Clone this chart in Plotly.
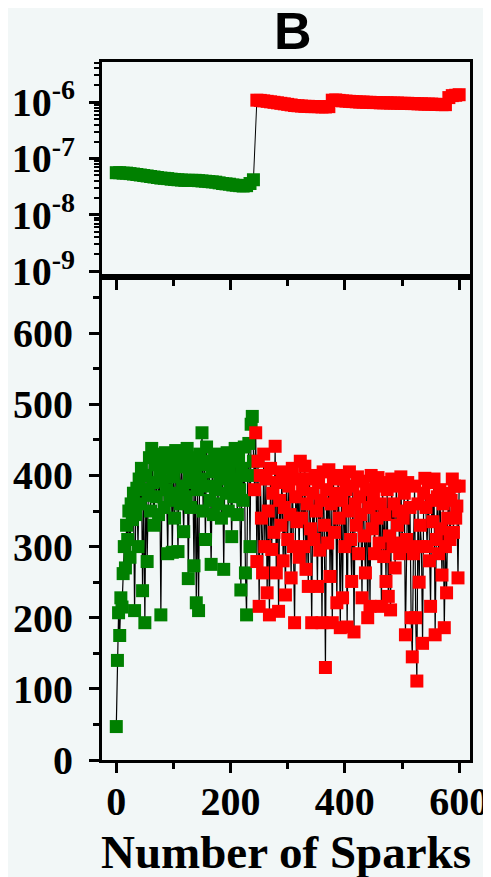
import plotly.graph_objects as go
from plotly.subplots import make_subplots

# ---------------- data ----------------
# Bottom panel (value vs spark number)
green_sparks = list(range(0, 241, 2))
green_vals = [
    47, 140, 207, 175, 228, 215, 262, 300, 270, 330,
    310, 350, 285, 360, 338, 375, 210, 345, 382, 300,
    395, 360, 410, 238, 380, 193, 400, 279, 372, 425,
    350, 438, 390, 330, 415, 370, 430, 345, 405, 204,
    392, 420, 355, 432, 380, 290, 410, 365, 425, 292,
    398, 340, 435, 375, 293, 412, 360, 428, 385, 321,
    418, 370, 438, 255, 400, 355, 425, 390, 273, 410,
    221, 380, 210, 430, 395, 460, 350, 415, 310, 440,
    385, 420, 365, 275, 405, 345, 430, 380, 412, 360,
    425, 395, 340, 418, 268, 400, 375, 432, 350, 410,
    385, 314, 420, 370, 438, 395, 345, 425, 380, 239,
    410, 365, 440, 263, 204, 400, 445, 300, 472, 483,
    420,
]
red_sparks = list(range(242, 601, 2))
red_vals = [
    380, 460, 279, 420, 216, 400, 340, 263, 430, 300,
    395, 235, 350, 204, 410, 296, 375, 320, 441, 263,
    390, 209, 365, 330, 405, 280, 355, 232, 400, 310,
    385, 345, 256, 410, 300, 193, 370, 335, 395, 285,
    420, 340, 380, 300, 413, 268, 360, 244, 395, 325,
    193, 375, 310, 400, 350, 244, 390, 295, 365, 193,
    405, 330, 130, 380, 305, 408, 258, 360, 193, 395,
    320, 375, 221, 400, 340, 186, 365, 228, 395, 300,
    380, 187, 350, 405, 310, 251, 385, 180, 360, 330,
    398, 290, 370, 345, 228, 392, 315, 263, 380, 200,
    355, 216, 400, 325, 370, 290, 385, 340, 397, 305,
    360, 216, 390, 286, 345, 251, 380, 230, 315, 211,
    395, 300, 360, 270, 385, 330, 350, 290, 398, 305,
    340, 375, 176, 310, 390, 300, 355, 200, 145, 290,
    385, 200, 111, 360, 250, 330, 300, 164, 375, 396,
    355, 300, 390, 280, 216, 365, 335, 395, 176, 310,
    370, 290, 380, 325, 260, 360, 186, 300, 235, 340,
    375, 310, 365, 395, 320, 385, 340, 357, 256, 385,
]

# Top panel (log scale)
green_top_sparks = list(range(0, 241, 6))
green_top_vals = [
    5.6e-8, 5.6e-8, 5.5e-8, 5.5e-8, 5.4e-8, 5.3e-8, 5.2e-8, 5.1e-8, 5.0e-8, 4.9e-8,
    4.8e-8, 4.7e-8, 4.6e-8, 4.5e-8, 4.45e-8, 4.4e-8, 4.3e-8, 4.25e-8, 4.2e-8, 4.15e-8,
    4.1e-8, 4.1e-8, 4.1e-8, 4.1e-8, 4.05e-8, 4.0e-8, 3.95e-8, 3.9e-8, 3.85e-8, 3.8e-8,
    3.7e-8, 3.6e-8, 3.55e-8, 3.5e-8, 3.4e-8, 3.35e-8, 3.3e-8, 3.25e-8, 3.3e-8, 3.6e-8,
    4.2e-8,
]
red_top_sparks = list(range(246, 601, 6))
red_top_vals = [
    1.08e-6, 1.07e-6, 1.05e-6, 1.03e-6, 1.01e-6, 0.99e-6, 0.97e-6, 0.95e-6, 0.93e-6, 0.91e-6,
    0.89e-6, 0.87e-6, 0.86e-6, 0.85e-6, 0.84e-6, 0.84e-6, 0.83e-6, 0.83e-6, 0.83e-6, 0.82e-6,
    0.82e-6, 0.83e-6, 1.08e-6, 1.09e-6, 1.07e-6, 1.05e-6, 1.04e-6, 1.03e-6, 1.02e-6, 1.01e-6,
    1.0e-6, 1.0e-6, 0.99e-6, 0.99e-6, 0.98e-6, 0.98e-6, 0.97e-6, 0.97e-6, 0.97e-6, 0.96e-6,
    0.96e-6, 0.96e-6, 0.95e-6, 0.95e-6, 0.95e-6, 0.94e-6, 0.94e-6, 0.93e-6, 0.93e-6, 0.92e-6,
    0.92e-6, 0.92e-6, 0.91e-6, 0.91e-6, 0.90e-6, 0.90e-6, 1.2e-6, 1.3e-6, 1.32e-6, 1.35e-6,
]

x_ticks = [0, 200, 400, 600]
y_ticks = [0, 100, 200, 300, 400, 500, 600]
log_ticks = [1e-9, 1e-8, 1e-7, 1e-6]
log_ticktext = ["10<sup>-9</sup>", "10<sup>-8</sup>", "10<sup>-7</sup>", "10<sup>-6</sup>"]
log_minor = [m * 10 ** e for e in (-9, -8, -7, -6) for m in range(2, 10)]

# ---------------- figure ----------------
BG = "#f2f7f7"
GREEN = "#008000"
RED = "#ff0000"
SERIF = "Liberation Serif"
MSIZE = 13

fig = make_subplots(rows=2, cols=1, shared_xaxes=False, vertical_spacing=0,
                    row_heights=[0.308, 0.692])

# top panel
fig.add_trace(go.Scatter(x=green_top_sparks + red_top_sparks, y=green_top_vals + red_top_vals,
                         mode="lines", line=dict(color="black", width=1), showlegend=False),
              row=1, col=1)
fig.add_trace(go.Scatter(x=green_top_sparks, y=green_top_vals, mode="markers",
                         marker=dict(symbol="square", size=MSIZE, color=GREEN), showlegend=False),
              row=1, col=1)
fig.add_trace(go.Scatter(x=red_top_sparks, y=red_top_vals, mode="markers",
                         marker=dict(symbol="square", size=MSIZE, color=RED), showlegend=False),
              row=1, col=1)

# bottom panel
fig.add_trace(go.Scatter(x=green_sparks + red_sparks, y=green_vals + red_vals,
                         mode="lines", line=dict(color="black", width=1.2), showlegend=False),
              row=2, col=1)
fig.add_trace(go.Scatter(x=green_sparks, y=green_vals, mode="markers",
                         marker=dict(symbol="square", size=MSIZE, color=GREEN), showlegend=False),
              row=2, col=1)
fig.add_trace(go.Scatter(x=red_sparks, y=red_vals, mode="markers",
                         marker=dict(symbol="square", size=MSIZE, color=RED), showlegend=False),
              row=2, col=1)

tickfont = dict(family=SERIF, size=40, color="black", weight="bold")
axis_common = dict(showline=True, linewidth=3, linecolor="black", mirror=True,
                   showgrid=False, zeroline=False, ticks="outside", ticklen=10,
                   tickwidth=3, tickcolor="black", automargin=False)

fig.update_xaxes(range=[-25, 619], tickvals=x_ticks,
                 minor=dict(ticks="outside", dtick=100, tick0=0, ticklen=6, tickwidth=3,
                            tickcolor="black"),
                 **axis_common)
fig.update_xaxes(showticklabels=False, row=1, col=1)
fig.update_xaxes(tickfont=tickfont, ticklabelstandoff=-6, row=2, col=1)

fig.update_yaxes(type="log", range=[-9.1, -5.29], tickvals=log_ticks, ticktext=log_ticktext,
                 tickfont=tickfont, ticklabelstandoff=6,
                 minor=dict(ticks="outside", tickvals=log_minor, ticklen=5, tickwidth=2,
                            tickcolor="black"),
                 row=1, col=1, **axis_common)
fig.update_yaxes(range=[0, 679], tickvals=y_ticks, tickfont=tickfont, ticklabelstandoff=8,
                 minor=dict(ticks="outside", dtick=50, tick0=0, ticklen=6, tickwidth=3,
                            tickcolor="black"),
                 row=2, col=1, **axis_common)

fig.add_annotation(text="<b>B</b>", xref="paper", yref="paper", x=0.519, y=1.044,
                   xanchor="center", yanchor="middle", showarrow=False,
                   font=dict(family="Liberation Sans", size=52, color="black"))
fig.add_annotation(text="Number of Sparks", xref="paper", yref="paper", x=0.5, y=-0.132,
                   xanchor="center", yanchor="middle", showarrow=False,
                   font=dict(family=SERIF, size=47, color="black", weight="bold"))

# page body has an 8px margin, so the figure is sized/offset to fit the 491x877 window
fig.update_layout(width=483, height=869, paper_bgcolor=BG, plot_bgcolor=BG,
                  margin=dict(l=94, r=21, t=54, b=117), showlegend=False)

fig.write_html("out.html")
